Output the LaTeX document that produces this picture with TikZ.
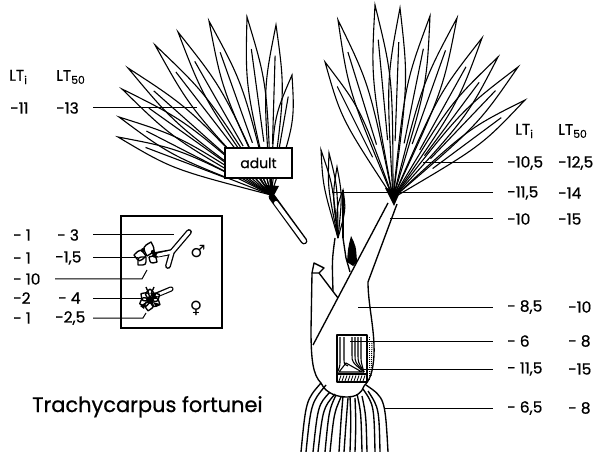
\documentclass[tikz,border=0pt]{standalone}
\usepackage{fontspec}
\setmainfont{Poppins}
\newfontfamily\labfont{Poppins}[FakeBold=0.7]
\newfontfamily\symfont{DejaVu Sans}
\usetikzlibrary{calc}
\newcommand{\fanleaf}[3]{%
 \draw[leafline] (#1) .. controls ($(#1)!0.62!(#2)!#3!90:(#2)$) .. (#2) .. controls ($(#1)!0.62!(#2)!#3!-90:(#2)$) .. (#1);
 \draw[leafline] ($(#1)!0.3!(#2)$) -- ($(#1)!0.82!(#2)$);}
\newcommand{\petal}[3]{%
 \draw[plant] (#1) .. controls ($(#1)!0.5!(#2)!#3!90:(#2)$) .. (#2) .. controls ($(#1)!0.5!(#2)!#3!-90:(#2)$) .. (#1);}
\begin{document}
\begin{tikzpicture}[x=1bp,y=-1bp,
  leafline/.style={line width=1.1bp},
  plant/.style={line width=1.35bp, line join=round},
  lead/.style={line width=1bp},
  lab/.style={inner sep=0pt, anchor=west, font=\labfont\fontsize{15.5}{15.5}\selectfont},
  sym/.style={inner sep=0pt, font=\symfont\fontsize{17}{17}\selectfont}]
\useasboundingbox (0,0) rectangle (616,452);

% ---------- left (adult) fan ----------
\coordinate (LH) at (271,195);
\foreach \x/\y [count=\i] in {118/137,119/117,122/89,128/68,155/45,178/32,209/21,247/17,276/25,292/75}{
  \coordinate (LT\i) at (\x,\y);
  \fanleaf{LH}{LT\i}{11pt}
}
\fill (265,185) -- (279,186) -- (272,199) -- cycle;
\coordinate (LP0) at (272,197);
\coordinate (LP) at (304,241);
\draw[line width=6.8bp, line cap=round] (LP0) -- (LP);
\draw[white, line width=4bp, line cap=round] (276,203) -- (LP);
\node[draw, fill=white, line width=1.4bp, minimum width=67bp, minimum height=30bp,
  inner sep=0pt, font=\labfont\fontsize{14}{14}\selectfont] (adult) at (258.5,163) {adult};

% ---------- right fan ----------
\coordinate (RH) at (393,198);
\foreach \x/\y [count=\i] in {325/62,338/20,375/5,400/8,430/16,457/18,482/38,498/57,518/67,525/100}{
  \coordinate (RT\i) at (\x,\y);
  \fanleaf{RH}{RT\i}{11pt}
}
\fill (385,188) -- (401,190) -- (394,206) -- cycle;

% ---------- young leaf ----------
\coordinate (YB) at (338,238);
\foreach \x/\y [count=\i] in {321/150,329/153,337/167,343/190}{
  \coordinate (YT\i) at (\x,\y);
  \draw[leafline] (YB) .. controls ($(YB)!0.6!(YT\i)!5pt!90:(YT\i)$) .. (YT\i) .. controls ($(YB)!0.6!(YT\i)!5pt!-90:(YT\i)$) .. (YB);
}
\draw[plant] (343,190) -- (343,238);
\draw[plant] (335,238) .. controls (332,260) .. (333,291);
\draw[plant] (343,238) -- (346,258) -- (350,272);
\fill (347,262) .. controls (348,248) .. (351,236) .. controls (356,246) .. (357,262) -- (353,266) -- cycle;

% ---------- petiole / sheath / trunk ----------
\draw[plant] (388,203) -- (313,345);
\draw[plant] (397,204) -- (368,282);
\draw[plant] (368,282) .. controls (368,305) and (375,330) .. (374,355)
   .. controls (373,372) and (370,380) .. (364,386);
\draw[plant] (312,273) -- (314,263) -- (324,268) -- (319,273) -- cycle;
\draw[plant] (312,273) -- (311,330) .. controls (311,360) and (313,375) .. (321,383);
\draw[plant] (319,273) -- (338,298);
% base
\draw[plant] (321,383) .. controls (326,394) and (338,397) .. (347,397)
   .. controls (356,397) and (362,393) .. (364,386);
% inset
\draw[plant] (337,335) rectangle (367,382);
\draw[densely dotted, line width=1bp] (369,337) -- (369,380);
\draw[densely dotted, line width=1bp] (372,341) -- (371,376);
\draw[leafline] (340,337) -- (340,358) .. controls (340,366) .. (338,371);
\draw[leafline] (344,337) -- (344,358) .. controls (344,364) .. (348,366);
\foreach \xx in {352,355,358,361}{
  \draw[leafline] (\xx,337) -- (\xx,355) .. controls (\xx,362) .. (364,372);
}
\draw[leafline] (339,372) -- (346,363) -- (362,372) -- cycle;
\draw[leafline] (337,374) -- (367,374);
\foreach \xx in {339,342,...,363}{
  \draw[line width=0.8bp] (\xx,381) -- (\xx+2,375.5);
}
% roots
\foreach \ta/\tb/\ca/\cb/\ba in {321/383/306/400/301, 330/392/318/405/313, 336/395/329/410/325, 343/396/341/420/339, 350/396/351/420/350, 357/394/361/412/362, 363/389/374/405/375}{
  \draw[plant] (\ta,\tb) .. controls (\ca,\cb) .. (\ba,452);
  \draw[plant] (\ta+5,\tb+2) .. controls (\ca+5,\cb+3) .. (\ba+5,452);
}
\draw[plant] (366,385) .. controls (385,398) .. (388,452);

% ---------- right labels ----------
\node[lab] (rhi) at (515,131) {LT\textsubscript{i}};
\node[lab] (rhf) at (558,131) {LT\textsubscript{50}};
\foreach \yy/\pa/\pb/\xb/\sx [count=\i] in {163/{-10,5}/{-12,5}/558/423, 193/{-11,5}/{-14}/558/332, 219/{-10}/{-15}/558/390, 307/{- 8,5}/{-10}/568/358, 341/{- 6}/{- 8}/568/350, 369/{- 11,5}/{-15}/568/363, 408/{- 6,5}/{- 8}/568/385}{
  \node[lab] (ra\i) at (507,\yy) {\pa};
  \node[lab] (rb\i) at (\xb,\yy) {\pb};
  \coordinate (rs\i) at (\sx,\yy);
  \draw[lead] (rs\i) -- ($(ra\i.west)+(-14,0)$);
}

% ---------- left labels ----------
\node[lab] (lhi) at (9,77) {LT\textsubscript{i}};
\node[lab] (lhf) at (56,77) {LT\textsubscript{50}};
\node[lab] (la0) at (10,108) {-11};
\node[lab] (lb0) at (56,108) {-13};
\coordinate (le0) at (197,108);
\draw[lead] (93,108) -- (le0);

% ---------- flower box ----------
\draw[line width=1.4bp] (121,216) rectangle (222,328);
% male flower
\draw[line width=5.8bp, line cap=round, line join=round] (168,266) -- (172,252) -- (189,232);
\draw[line width=5.8bp, line cap=round] (155,255) -- (172,252);
\draw[white, line width=3.2bp, line cap=round, line join=round] (168,266) -- (172,252) -- (189,232);
\draw[white, line width=3.2bp, line cap=round] (158,255) -- (172,252);
\petal{147,256}{151,242}{7pt}
\petal{146,256}{134,255}{7pt}
\petal{146,257}{138,265}{6pt}
\petal{149,257}{157,262}{5pt}
\fill (143,250) circle (2bp);
\fill (153,252) circle (2.2bp);
\node[sym] (male) at (198,252) {♂};
% female flower
\draw[line width=5.2bp, line cap=round] (154,296) -- (171,289);
\draw[white, line width=2.8bp, line cap=round] (157,295) -- (171,289);
\foreach \a in {25,100,160,215,270,330}{
  \coordinate (fp) at ($(150,300)+(\a:11)$);
  \petal{150,300}{fp}{6pt}
}
\fill (150,300) circle (4bp);
\fill (140,306) -- (146,302) -- (144,309) -- cycle;
\fill (156,307) -- (153,302) -- (160,304) -- cycle;
\draw[plant] (146,287) -- (149,294);
\draw[plant] (154,287) -- (151,294);
\node[sym] (female) at (196,308) {♀};
% box labels
\node[lab] (la1) at (13,235) {- 1};
\node[lab] (lb1) at (57,235) {- 3};
\node[lab] (la2) at (13,258) {- 1};
\node[lab] (lb2) at (55,258) {-1,5};
\node[lab] (la3) at (13,279) {- 10};
\node[lab] (la4) at (13,298) {-2};
\node[lab] (lb4) at (58,298) {- 4};
\node[lab] (la5) at (13,318) {- 1};
\node[lab] (lb5) at (55,318) {-2,5};
\coordinate (le1) at (174,235);
\coordinate (le2) at (138,258);
\coordinate (le3) at (147,270);
\coordinate (le4) at (142,298);
\coordinate (le5) at (146,313);
\draw[lead] (93,235) -- (le1);
\draw[lead] (93,258) -- (le2);
\draw[lead] (55,279) -- (142,279) -- (le3);
\draw[lead] (93,298) -- (le4);
\draw[lead] (93,318) -- (143,318) -- (le5);

% ---------- title ----------
\node[inner sep=0pt, anchor=base west, font=\labfont\fontsize{21}{21}\selectfont] (title) at (32,412) {Trachycarpus fortunei};
\end{tikzpicture}
\end{document}
